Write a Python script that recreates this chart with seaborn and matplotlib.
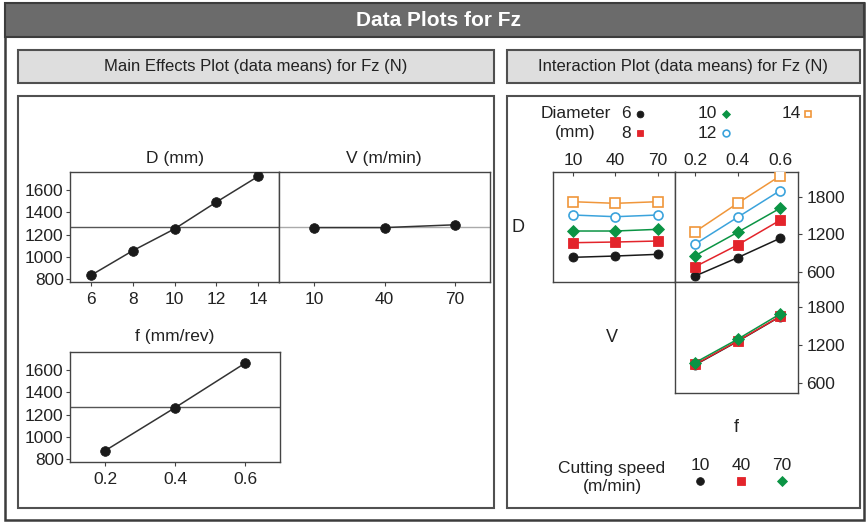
import matplotlib
matplotlib.use("Agg")
import matplotlib.pyplot as plt
from matplotlib.patches import Rectangle
import seaborn as sns

# ---------------- data ----------------
d_levels = [6, 8, 10, 12, 14]
d_means = [835, 1055, 1250, 1490, 1720]
v_levels = [10, 40, 70]
v_means = [1262, 1262, 1287]
f_levels = [0.2, 0.4, 0.6]
f_means = [876, 1261, 1659]
grand_mean = 1270
me_yticks = [800, 1000, 1200, 1400, 1600]

# interaction D x V (one list per diameter, over v_levels)
dv_d6 = [830, 851, 878]
dv_d8 = [1064, 1075, 1091]
dv_d10 = [1251, 1251, 1278]
dv_d12 = [1507, 1480, 1507]
dv_d14 = [1720, 1694, 1720]
# interaction D x f (one list per diameter, over f_levels)
df_d6 = [531, 824, 1134]
df_d8 = [680, 1027, 1422]
df_d10 = [856, 1230, 1614]
df_d12 = [1043, 1470, 1896]
df_d14 = [1240, 1694, 2131]
# interaction V x f (one list per cutting speed, over f_levels)
vf_v10 = [888, 1258, 1648]
vf_v40 = [896, 1264, 1653]
vf_v70 = [924, 1292, 1690]
int_yticks = [600, 1200, 1800]

# ---------------- style ----------------
sns.set_style("white")
plt.rcParams["font.family"] = ["Liberation Sans", "DejaVu Sans"]

BLACK = "#1a1a1a"
RED = "#e3242b"
GREEN = "#0b9444"
BLUE = "#3ba3dc"
ORANGE = "#f0963a"
EDGE = "#444444"
TXT = "#222222"

STY = {
    6: dict(m="o", c=BLACK, fc=BLACK, ms=6.5, mew=0.6),
    8: dict(m="s", c=RED, fc=RED, ms=6.5, mew=0.6),
    10: dict(m="D", c=GREEN, fc=GREEN, ms=6.0, mew=0.6),
    12: dict(m="o", c=BLUE, fc="white", ms=6.5, mew=1.2),
    14: dict(m="s", c=ORANGE, fc="white", ms=6.5, mew=1.2),
}
VSTY = {
    10: dict(m="o", c=BLACK, fc=BLACK, ms=6.5, mew=0.6),
    40: dict(m="s", c=RED, fc=RED, ms=6.5, mew=0.6),
    70: dict(m="D", c=GREEN, fc=GREEN, ms=6.0, mew=0.6),
}

W, H = 867, 522
fig = plt.figure(figsize=(W / 100, H / 100), dpi=100)

bg = fig.add_axes([0, 0, 1, 1], zorder=0)
bg.set_xlim(0, W)
bg.set_ylim(H, 0)
bg.axis("off")


def px_axes(x0, y0, x1, y1):
    return fig.add_axes([x0 / W, 1 - y1 / H, (x1 - x0) / W, (y1 - y0) / H], zorder=2)


def rect(x0, y0, x1, y1, fc, ec, lw):
    bg.add_patch(Rectangle((x0, y0), x1 - x0, y1 - y0, facecolor=fc,
                           edgecolor=ec, linewidth=lw))


# frames and banners
rect(5, 3, 864, 520, "white", "#3c3c3c", 1.8)
rect(5, 3, 864, 37, "#6b6b6b", "#3c3c3c", 1.5)
bg.text(438, 20, "Data Plots for Fz", color="white", fontsize=15,
        fontweight="bold", ha="center", va="center")
rect(18, 50, 494, 83, "#dedede", "#505050", 1.5)
rect(507, 50, 860, 83, "#dedede", "#505050", 1.5)
bg.text(256, 66.5, "Main Effects Plot (data means) for Fz (N)", fontsize=12,
        ha="center", va="center", color=TXT)
bg.text(683.5, 66.5, "Interaction Plot (data means) for Fz (N)", fontsize=12,
        ha="center", va="center", color=TXT)
rect(18, 96, 494, 508, "white", "#505050", 1.5)
rect(507, 96, 860, 508, "white", "#505050", 1.5)


def style_spines(ax):
    for s in ax.spines.values():
        s.set_color(EDGE)
        s.set_linewidth(1.0)
        s.set_visible(True)


# ---------------- main effects ----------------
def main_panel(ax, x, y, xlim, ticklabels, show_y, refcolor):
    ax.axhline(grand_mean, color=refcolor, lw=1.0, zorder=1)
    sns.lineplot(x=x, y=y, ax=ax, color="#333333", lw=1.1, marker="o",
                 markersize=7, markerfacecolor=BLACK, markeredgecolor=BLACK,
                 markeredgewidth=0.5, errorbar=None, zorder=3)
    ax.set_xlim(*xlim)
    ax.set_ylim(778, 1762)
    ax.set_xticks(x)
    ax.set_xticklabels(ticklabels)
    ax.set_yticks(me_yticks)
    if show_y:
        ax.set_yticklabels([str(v) for v in me_yticks])
        ax.tick_params(axis="y", left=True, direction="out", length=3,
                       width=0.8, color=EDGE, labelsize=12.5, pad=1.5,
                       labelcolor=TXT)
    else:
        ax.tick_params(axis="y", left=False, labelleft=False)
    ax.tick_params(axis="x", bottom=True, direction="out", length=3,
                   width=0.8, color=EDGE, labelsize=12.5, pad=4.5,
                   labelcolor=TXT)
    ax.set_xlabel("")
    ax.set_ylabel("")
    style_spines(ax)


axD = px_axes(70, 171.7, 279, 281.7)
main_panel(axD, d_levels, d_means, (5, 15), [str(v) for v in d_levels], True, "#555555")
axV = px_axes(279, 171.7, 490, 281.7)
main_panel(axV, v_levels, v_means, (-5, 85), [str(v) for v in v_levels], False, "#aaaaaa")
axF = px_axes(70, 351.7, 280, 461.7)
main_panel(axF, f_levels, f_means, (0.1, 0.7), [str(v) for v in f_levels], True, "#555555")

bg.text(175, 158, "D (mm)", fontsize=12.5, ha="center", va="center", color=TXT)
bg.text(384, 158, "V (m/min)", fontsize=12.5, ha="center", va="center", color=TXT)
bg.text(175, 337, "f (mm/rev)", fontsize=12.5, ha="center", va="center", color=TXT)


# ---------------- interaction ----------------
def series(ax, x, y, st):
    sns.lineplot(x=x, y=y, ax=ax, color=st["c"], lw=1.1, marker=st["m"],
                 markersize=st["ms"], markerfacecolor=st["fc"],
                 markeredgecolor=st["c"], markeredgewidth=st["mew"],
                 errorbar=None, zorder=3)


INT_YLIM = (440, 2200)

axDV = px_axes(553, 171.7, 675, 281.7)
for lvl, vals in zip(d_levels, [dv_d6, dv_d8, dv_d10, dv_d12, dv_d14]):
    series(axDV, v_levels, vals, STY[lvl])
axDV.set_xlim(-4, 82)
axDV.set_ylim(*INT_YLIM)
axDV.set_xticks(v_levels)
axDV.set_xticklabels([str(v) for v in v_levels])
axDV.tick_params(axis="x", top=True, bottom=False, labeltop=True,
                 labelbottom=False, direction="in", length=3, width=0.8,
                 color=EDGE, labelsize=12.5, pad=3, labelcolor=TXT)
axDV.tick_params(axis="y", left=False, right=False, labelleft=False)

axDf = px_axes(675, 171.7, 798, 281.7)
for lvl, vals in zip(d_levels, [df_d6, df_d8, df_d10, df_d12, df_d14]):
    series(axDf, f_levels, vals, STY[lvl])
axDf.set_xlim(0.105, 0.685)
axDf.set_ylim(*INT_YLIM)
axDf.set_xticks(f_levels)
axDf.set_xticklabels([str(v) for v in f_levels])
axDf.tick_params(axis="x", top=True, bottom=False, labeltop=True,
                 labelbottom=False, direction="in", length=3, width=0.8,
                 color=EDGE, labelsize=12.5, pad=3, labelcolor=TXT)
axDf.set_yticks(int_yticks)
axDf.set_yticklabels([str(v) for v in int_yticks])
axDf.tick_params(axis="y", right=True, left=False, labelright=True,
                 labelleft=False, direction="out", length=3, width=0.8,
                 color=EDGE, labelsize=12.5, pad=3, labelcolor=TXT)

axVf = px_axes(675, 281.7, 798, 393.3)
for lvl, vals in zip(v_levels, [vf_v10, vf_v40, vf_v70]):
    series(axVf, f_levels, vals, VSTY[lvl])
axVf.set_xlim(0.105, 0.685)
axVf.set_ylim(*INT_YLIM)
axVf.set_xticks([])
axVf.set_yticks(int_yticks)
axVf.set_yticklabels([str(v) for v in int_yticks])
axVf.tick_params(axis="y", right=True, left=False, labelright=True,
                 labelleft=False, direction="out", length=3, width=0.8,
                 color=EDGE, labelsize=12.5, pad=3, labelcolor=TXT)

for a in (axDV, axDf, axVf):
    a.set_xlabel("")
    a.set_ylabel("")
    style_spines(a)

bg.text(518, 228, "D", fontsize=13, ha="center", va="center", color=TXT)
bg.text(612, 338, "V", fontsize=13, ha="center", va="center", color=TXT)
bg.text(736, 427, "f", fontsize=13, ha="center", va="center", color=TXT)

# ---------------- legends ----------------
bg.text(541, 113.5, "Diameter", fontsize=12.5, ha="left", va="center", color=TXT)
bg.text(575, 133, "(mm)", fontsize=12.5, ha="center", va="center", color=TXT)
leg_items = [
    ("6", 631, 113.5, 639.5, 6),
    ("8", 631, 133, 639.5, 8),
    ("10", 717, 113.5, 725.5, 10),
    ("12", 717, 133, 725.5, 12),
    ("14", 801, 113.5, 808, 14),
]
for lab, tx, ty, mx, lvl in leg_items:
    st = STY[lvl]
    bg.text(tx, ty, lab, fontsize=12.5, ha="right", va="center", color=TXT)
    bg.plot([mx], [ty], marker=st["m"], linestyle="none", markersize=st["ms"] * 0.75,
            markerfacecolor=st["fc"], markeredgecolor=st["c"], markeredgewidth=st["mew"])

bg.text(612, 468, "Cutting speed", fontsize=12.5, ha="center", va="center", color=TXT)
bg.text(612, 487, "(m/min)", fontsize=12.5, ha="center", va="center", color=TXT)
for lvl, cx in zip(v_levels, [700, 741, 782]):
    st = VSTY[lvl]
    bg.text(cx, 466, str(lvl), fontsize=12.5, ha="center", va="center", color=TXT)
    bg.plot([cx], [481], marker=st["m"], linestyle="none", markersize=st["ms"] * 0.85,
            markerfacecolor=st["fc"], markeredgecolor=st["c"], markeredgewidth=st["mew"])

fig.savefig("out.png", dpi=100)
